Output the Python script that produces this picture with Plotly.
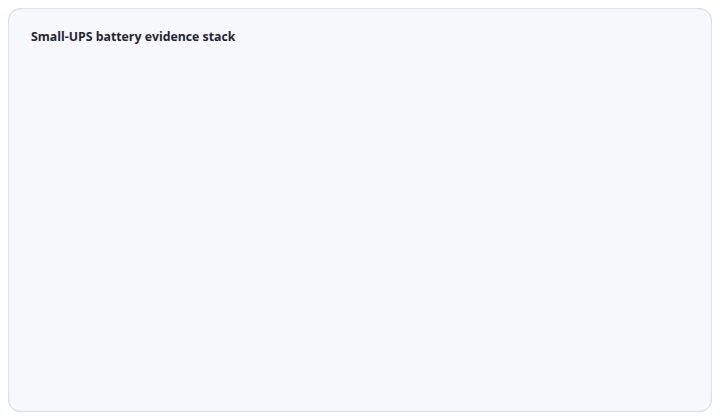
import plotly.graph_objects as go

# The reference chart contains no plotted data: the evidence stack is empty.
categories = []
values = []
title_text = "Small-UPS battery evidence stack"

# page body has an 8px default margin, so the figure sits at (8, 8)
OFF = 8
W, H = 720 - 2 * OFF, 420 - 2 * OFF
fig = go.Figure()
fig.add_trace(go.Bar(x=categories, y=values, showlegend=False))

# rounded card, given in page pixels, converted to paper coordinates
x0, x1, y0, y1 = 8.5, 711.5, 8.5, 411.5
r = 14
def px(x):
    return (x - OFF) / W
def py(y):
    return 1 - (y - OFF) / H
path = (
    f"M {px(x0 + r)} {py(y0)} L {px(x1 - r)} {py(y0)} "
    f"Q {px(x1)} {py(y0)} {px(x1)} {py(y0 + r)} "
    f"L {px(x1)} {py(y1 - r)} Q {px(x1)} {py(y1)} {px(x1 - r)} {py(y1)} "
    f"L {px(x0 + r)} {py(y1)} Q {px(x0)} {py(y1)} {px(x0)} {py(y1 - r)} "
    f"L {px(x0)} {py(y0 + r)} Q {px(x0)} {py(y0)} {px(x0 + r)} {py(y0)} Z"
)
fig.add_shape(type="path", path=path, xref="paper", yref="paper",
              fillcolor="#f6f8fb", line=dict(color="#dde3eb", width=1.5), layer="below")

fig.add_annotation(text="<b>" + title_text + "</b>", xref="paper", yref="paper",
                   x=px(29), y=py(36), xanchor="left", yanchor="middle", showarrow=False,
                   font=dict(family="Open Sans", size=12.3, color="#1e2636"))

fig.update_layout(
    width=W, height=H,
    margin=dict(l=0, r=0, t=0, b=0),
    paper_bgcolor="#ffffff", plot_bgcolor="rgba(0,0,0,0)",
    xaxis=dict(visible=False), yaxis=dict(visible=False),
    showlegend=False,
)
fig.write_html("out.html")
